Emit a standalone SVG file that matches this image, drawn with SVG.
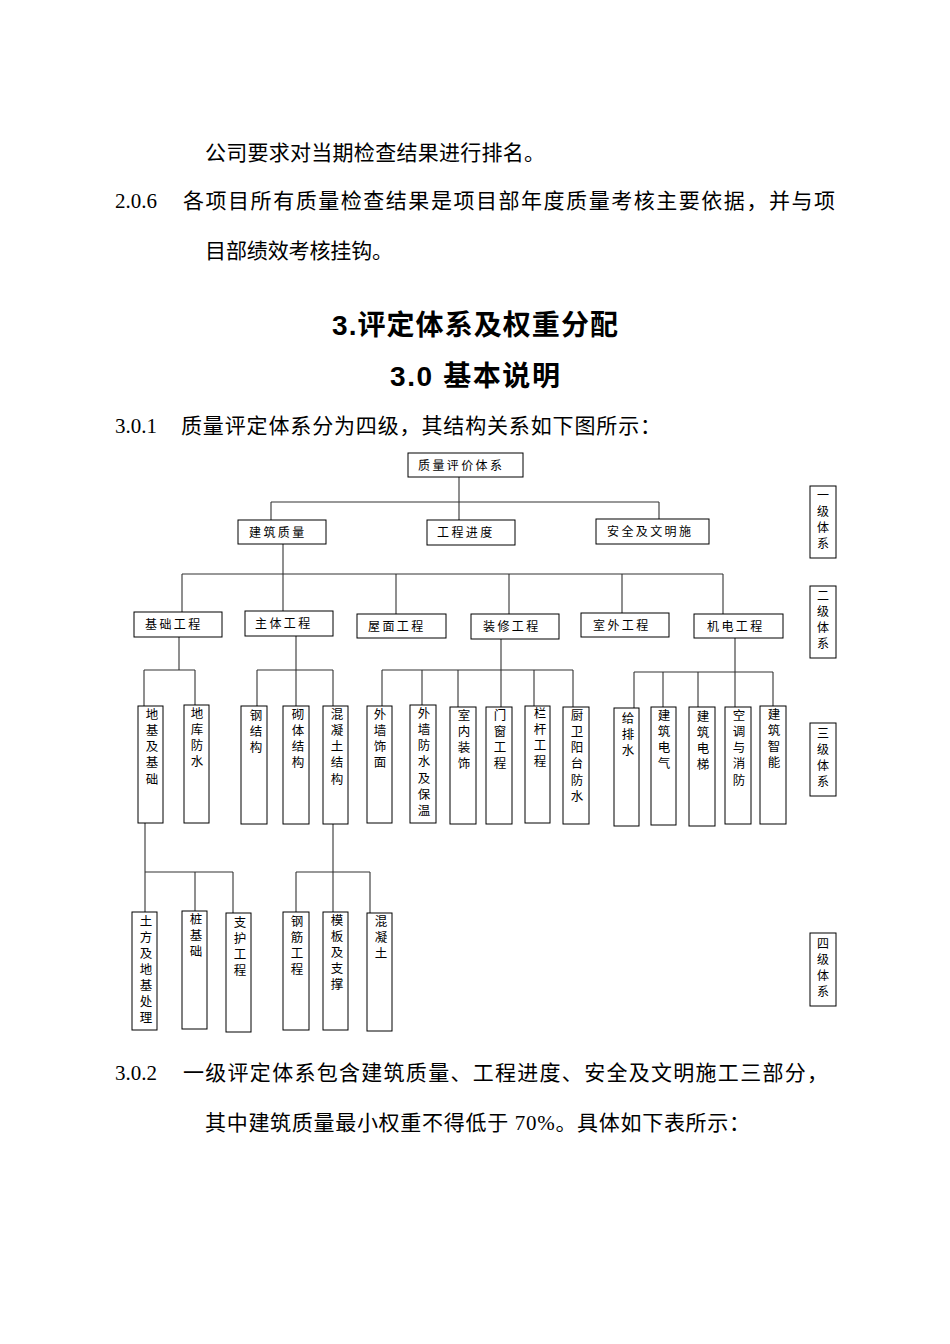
<svg xmlns="http://www.w3.org/2000/svg" width="950" height="1344" viewBox="0 0 950 1344">
<style>
.bg{fill:#fff}
.body{font-family:"Liberation Serif","Noto Sans CJK SC",serif;font-size:21px;fill:#000}
.title{font-family:"Liberation Sans","Noto Sans CJK SC",sans-serif;font-size:28px;font-weight:bold;fill:#000}
.box{fill:#fff;stroke:#000;stroke-width:1}
.ht{font-family:"Noto Sans CJK SC",sans-serif;font-size:12px;letter-spacing:2.4px;fill:#000}
.vt{font-family:"Noto Sans CJK SC",sans-serif;font-size:12.5px;fill:#000;writing-mode:vertical-rl;letter-spacing:3.8px}
.v4{letter-spacing:3.6px}
.vs{font-size:12px;letter-spacing:4px}
.conn line{stroke:#333;stroke-width:1.1}
</style>
<rect class="bg" width="950" height="1344"/>

<g id="text-body">
<text class="body" x="205" y="160" textLength="340" lengthAdjust="spacing">公司要求对当期检查结果进行排名。</text>
<text class="body" x="115" y="208">2.0.6</text>
<text class="body" x="183" y="208" textLength="652" lengthAdjust="spacing">各项目所有质量检查结果是项目部年度质量考核主要依据，并与项</text>
<text class="body" x="205" y="258" textLength="188" lengthAdjust="spacing">目部绩效考核挂钩。</text>
<text class="title" x="332" y="335" textLength="286" lengthAdjust="spacing">3.评定体系及权重分配</text>
<text class="title" x="390" y="386" textLength="170" lengthAdjust="spacing">3.0 基本说明</text>
<text class="body" x="115" y="433">3.0.1</text>
<text class="body" x="181" y="433" textLength="480" lengthAdjust="spacing">质量评定体系分为四级，其结构关系如下图所示：</text>
<text class="body" x="115" y="1080">3.0.2</text>
<text class="body" x="183" y="1080" textLength="645" lengthAdjust="spacing">一级评定体系包含建筑质量、工程进度、安全及文明施工三部分，</text>
<text class="body" x="205" y="1130" textLength="545" lengthAdjust="spacing">其中建筑质量最小权重不得低于 70%。具体如下表所示：</text>
</g>

<g id="connectors" class="conn">
<line x1="459" y1="477" x2="459" y2="520"/>
<line x1="271" y1="502" x2="659" y2="502"/>
<line x1="271" y1="502" x2="271" y2="520"/>
<line x1="659" y1="502" x2="659" y2="519"/>
<line x1="283" y1="544" x2="283" y2="574"/>
<line x1="182" y1="574" x2="723" y2="574"/>
<line x1="182" y1="574" x2="182" y2="612"/>
<line x1="283" y1="574" x2="283" y2="611"/>
<line x1="396" y1="574" x2="396" y2="614"/>
<line x1="509" y1="574" x2="509" y2="614"/>
<line x1="622" y1="574" x2="622" y2="613"/>
<line x1="723" y1="574" x2="723" y2="614"/>

<line x1="179" y1="637" x2="179" y2="670"/>
<line x1="144" y1="670" x2="195" y2="670"/>
<line x1="144" y1="670" x2="144" y2="706"/>
<line x1="195" y1="670" x2="195" y2="705"/>

<line x1="296" y1="636" x2="296" y2="706"/>
<line x1="257" y1="670" x2="333" y2="670"/>
<line x1="257" y1="670" x2="257" y2="706"/>
<line x1="333" y1="670" x2="333" y2="706"/>

<line x1="501" y1="639" x2="501" y2="707"/>
<line x1="382" y1="670" x2="573" y2="670"/>
<line x1="382" y1="670" x2="382" y2="706"/>
<line x1="422" y1="670" x2="422" y2="705"/>
<line x1="458" y1="670" x2="458" y2="707"/>
<line x1="534" y1="670" x2="534" y2="706"/>
<line x1="573" y1="670" x2="573" y2="707"/>

<line x1="735" y1="638" x2="735" y2="707"/>
<line x1="634" y1="672" x2="773" y2="672"/>
<line x1="634" y1="672" x2="634" y2="708"/>
<line x1="663" y1="672" x2="663" y2="707"/>
<line x1="698" y1="672" x2="698" y2="707"/>
<line x1="773" y1="672" x2="773" y2="706"/>

<line x1="145" y1="823" x2="145" y2="912"/>
<line x1="145" y1="872" x2="233" y2="872"/>
<line x1="195" y1="872" x2="195" y2="911"/>
<line x1="233" y1="872" x2="233" y2="913"/>

<line x1="333" y1="824" x2="333" y2="912"/>
<line x1="296" y1="872" x2="370" y2="872"/>
<line x1="296" y1="872" x2="296" y2="912"/>
<line x1="370" y1="872" x2="370" y2="913"/>
</g>

<g id="n-root"><rect class="box" x="408" y="453" width="115" height="24"/><text class="ht" x="418" y="469.5">质量评价体系</text></g>

<g id="n-jzzl"><rect class="box" x="238" y="520" width="88" height="24"/><text class="ht" x="249" y="536.5">建筑质量</text></g>
<g id="n-gcjd"><rect class="box" x="427" y="520" width="88" height="25"/><text class="ht" x="437" y="537">工程进度</text></g>
<g id="n-aqwm"><rect class="box" x="596" y="519" width="113" height="25"/><text class="ht" x="607" y="536">安全及文明施</text></g>

<g id="n-jcgc"><rect class="box" x="134" y="612" width="88" height="25"/><text class="ht" x="145" y="629">基础工程</text></g>
<g id="n-ztgc"><rect class="box" x="245" y="611" width="88" height="25"/><text class="ht" x="255" y="628">主体工程</text></g>
<g id="n-wmgc"><rect class="box" x="357" y="614" width="89" height="24"/><text class="ht" x="368" y="630.5">屋面工程</text></g>
<g id="n-zxgc"><rect class="box" x="471" y="614" width="88" height="25"/><text class="ht" x="483" y="631">装修工程</text></g>
<g id="n-swgc"><rect class="box" x="581" y="613" width="88" height="24"/><text class="ht" x="593" y="629.5">室外工程</text></g>
<g id="n-jdgc"><rect class="box" x="694" y="614" width="89" height="24"/><text class="ht" x="707" y="630.5">机电工程</text></g>

<g id="n-djjjc"><rect class="box" x="138" y="706" width="25" height="117"/><text class="vt" x="152" y="707.5">地基及基础</text></g>
<g id="n-dkfs"><rect class="box" x="184" y="705" width="25" height="118"/><text class="vt" x="197" y="706.5">地库防水</text></g>

<g id="n-gjg"><rect class="box" x="241" y="706" width="26" height="118"/><text class="vt" x="256" y="708.5">钢结构</text></g>
<g id="n-qtjg"><rect class="box" x="283" y="706" width="26" height="118"/><text class="vt" x="298" y="707.5">砌体结构</text></g>
<g id="n-hntjg"><rect class="box" x="323" y="706" width="25" height="118"/><text class="vt" x="337" y="707.5">混凝土结构</text></g>

<g id="n-wqsm"><rect class="box" x="367" y="706" width="25" height="117"/><text class="vt" x="380" y="707.5">外墙饰面</text></g>
<g id="n-wqfs"><rect class="box" x="410" y="705" width="26" height="118"/><text class="vt" x="424" y="706.5">外墙防水及保温</text></g>
<g id="n-snzs"><rect class="box" x="450" y="707" width="26" height="117"/><text class="vt" x="464" y="708.5">室内装饰</text></g>
<g id="n-mcgc"><rect class="box" x="486" y="707" width="26" height="117"/><text class="vt" x="500" y="708.5">门窗工程</text></g>
<g id="n-lggc"><rect class="box" x="525" y="706" width="25" height="117"/><text class="vt" x="540" y="706.5">栏杆工程</text></g>
<g id="n-cwyt"><rect class="box" x="563" y="707" width="26" height="117"/><text class="vt" x="577" y="708.5">厨卫阳台防水</text></g>

<g id="n-gps"><rect class="box" x="614" y="708" width="25" height="118"/><text class="vt" x="628" y="711.5">给排水</text></g>
<g id="n-jzdq"><rect class="box" x="651" y="707" width="25" height="118"/><text class="vt" x="664" y="708.5">建筑电气</text></g>
<g id="n-jzdt"><rect class="box" x="689" y="707" width="26" height="119"/><text class="vt" x="703" y="709.5">建筑电梯</text></g>
<g id="n-ktxf"><rect class="box" x="725" y="707" width="26" height="117"/><text class="vt" x="739" y="708.5">空调与消防</text></g>
<g id="n-jzzn"><rect class="box" x="760" y="706" width="26" height="118"/><text class="vt" x="774" y="707.5">建筑智能</text></g>

<g id="n-tfdj"><rect class="box" x="132" y="912" width="25" height="118"/><text class="vt v4" x="146" y="914.5">土方及地基处理</text></g>
<g id="n-zjc"><rect class="box" x="182" y="911" width="25" height="118"/><text class="vt v4" x="196" y="912.5">桩基础</text></g>
<g id="n-zhgc"><rect class="box" x="226" y="913" width="25" height="119"/><text class="vt v4" x="240" y="915.5">支护工程</text></g>
<g id="n-gjgc"><rect class="box" x="283" y="912" width="26" height="118"/><text class="vt v4" x="297" y="914.5">钢筋工程</text></g>
<g id="n-mbjzc"><rect class="box" x="323" y="912" width="25" height="118"/><text class="vt v4" x="337" y="913.5">模板及支撑</text></g>
<g id="n-hnt"><rect class="box" x="367" y="913" width="25" height="118"/><text class="vt v4" x="381" y="914.5">混凝土</text></g>

<g id="lv1"><rect class="box" x="810" y="486" width="26" height="72"/><text class="vt vs" x="823" y="489">一级体系</text></g>
<g id="lv2"><rect class="box" x="810" y="586" width="26" height="72"/><text class="vt vs" x="823" y="589">二级体系</text></g>
<g id="lv3"><rect class="box" x="810" y="723" width="26" height="73"/><text class="vt vs" x="823" y="727">三级体系</text></g>
<g id="lv4"><rect class="box" x="810" y="933" width="26" height="73"/><text class="vt vs" x="823" y="937">四级体系</text></g>
</svg>
